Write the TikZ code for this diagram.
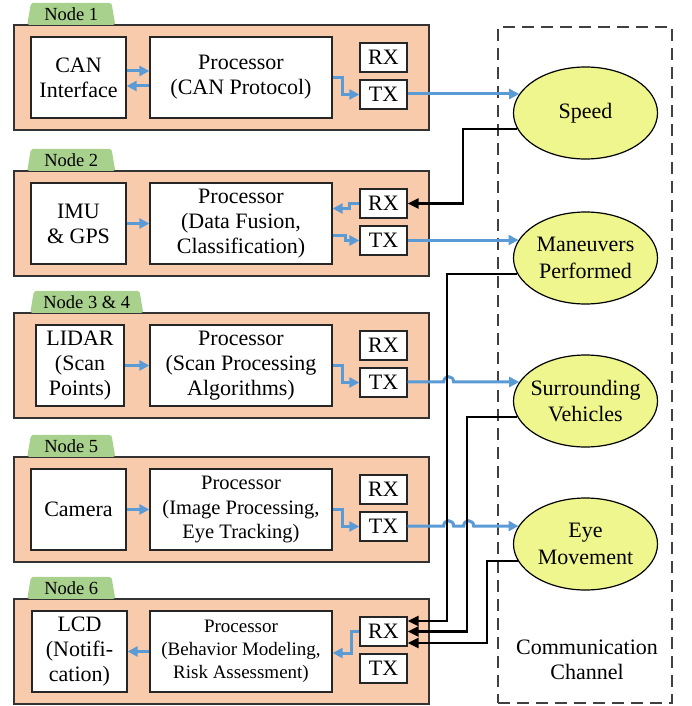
\documentclass[tikz,border=0pt]{standalone}
\usepackage{fontspec}
\setmainfont{Liberation Serif}
\usepackage{tikz}
\usetikzlibrary{arrows.meta}
\usetikzlibrary{shapes.geometric}
\usetikzlibrary{positioning}

\definecolor{unitorange}{RGB}{248,203,173}
\definecolor{tabgreen}{RGB}{169,209,142}
\definecolor{ellyellow}{RGB}{239,246,141}
\definecolor{linkblue}{RGB}{91,155,213}

\begin{document}
\begin{tikzpicture}[x=1pt,y=-1pt,
		unit/.style={draw=black!80,fill=unitorange,line width=1.4pt,minimum width=415pt,minimum height=105pt,inner sep=0pt},
		block/.style={draw=black!85,fill=white,line width=1.3pt,align=center,inner sep=0pt,minimum height=81pt,font=\fontsize{22}{25}\selectfont},
		port/.style={block,minimum width=47pt,minimum height=29pt},
		tab/.style={trapezium,trapezium left angle=74,trapezium right angle=74,trapezium stretches body,fill=tabgreen,rounded corners=2pt,minimum height=22pt,inner sep=0pt,anchor=bottom left corner,font=\fontsize{18.5}{20}\selectfont},
		msg/.style={ellipse,draw=black,line width=1.2pt,fill=ellyellow,minimum width=144pt,minimum height=92pt,inner xsep=-10pt,inner ysep=0pt,align=center,font=\fontsize{22}{26.5}\selectfont},
		channel/.style={draw=black!75,line width=1.3pt,dash pattern=on 12pt off 7pt,minimum width=174pt,minimum height=676pt,inner sep=0pt},
		link/.style={draw=linkblue,line width=3pt,-{Triangle[length=10pt,width=10pt]}},
		feed/.style={draw=black,line width=2.5pt,-{Triangle[length=11pt,width=10pt]}}]
			\useasboundingbox (0,0) rectangle (692,706);
			%communication channel
			\node[channel] (chan) at (585,365) {};
			\node[align=center,font=\fontsize{22}{25}\selectfont] (chanlabel) at (587,660) {Communication\\Channel};
			%node 1
			\node[unit] (u1) at (221.5,77.5) {};
			\node[tab,minimum width=88pt] (t1) at (27,25) {Node 1};
			\node[block,minimum width=95pt] (can1) at (78.5,77.5) {CAN\\Interface};
			\node[block,minimum width=182pt] (p1) at (241,77.5) {Processor\\(CAN Protocol)};
			\node[port] (rx1) at (383.5,57.5) {RX};
			\node[port] (tx1) at (383.5,94.5) {TX};
			%node 2
			\node[unit] (u2) at (221.5,223.5) {};
			\node[tab,minimum width=88pt] (t2) at (27,171) {Node 2};
			\node[block,minimum width=95pt] (imu2) at (78.5,223.5) {IMU\\\& GPS};
			\node[block,minimum width=182pt] (p2) at (241,223.5) {Processor\\(Data Fusion,\\Classification)};
			\node[port] (rx2) at (383.5,203.5) {RX};
			\node[port] (tx2) at (383.5,240.5) {TX};
			%node 3 & 4
			\node[unit] (u3) at (221.5,365.5) {};
			\node[tab,minimum width=113pt] (t3) at (30,313) {Node 3 \& 4};
			\node[block,minimum width=88pt] (lidar3) at (80,365.5) {LIDAR\\(Scan\\Points)};
			\node[block,minimum width=182pt] (p3) at (241,365.5) {Processor\\(Scan Processing\\Algorithms)};
			\node[port] (rx3) at (383.5,345.5) {RX};
			\node[port] (tx3) at (383.5,382.5) {TX};
			%node 5
			\node[unit] (u5) at (221.5,509.5) {};
			\node[tab,minimum width=88pt] (t5) at (27,457) {Node 5};
			\node[block,minimum width=95pt] (cam5) at (78.5,509.5) {Camera};
			\node[block,minimum width=182pt,font=\fontsize{20.5}{24.5}\selectfont] (p5) at (241,509.5) {Processor\\(Image Processing,\\Eye Tracking)};
			\node[port] (rx5) at (383.5,489.5) {RX};
			\node[port] (tx5) at (383.5,526.5) {TX};
			%node 6
			\node[unit] (u6) at (221.5,651.5) {};
			\node[tab,minimum width=88pt] (t6) at (27,599) {Node 6};
			\node[block,minimum width=95pt] (lcd6) at (79.5,651.5) {LCD\\(Notifi-\\cation)};
			\node[block,minimum width=182pt,font=\fontsize{19}{23}\selectfont] (p6) at (241,651.5) {Processor\\(Behavior Modeling,\\Risk Assessment)};
			\node[port] (rx6) at (383.5,631.5) {RX};
			\node[port] (tx6) at (383.5,668.5) {TX};
			%shared messages
			\node[msg] (speed) at (585.5,113) {Speed};
			\node[msg] (man) at (585.5,258) {Maneuvers\\Performed};
			\node[msg] (surr) at (585.5,401) {Surrounding\\Vehicles};
			\node[msg] (eye) at (585.5,544) {Eye\\Movement};
			%links inside node 1
			\draw[link] ([yshift=6.5pt]can1.east) -- ([yshift=6.5pt]p1.west);
			\draw[link] ([yshift=-8.5pt]p1.west) -- ([yshift=-8.5pt]can1.east);
			\draw[link] (p1.east) -- ++(10,0) |- (tx1);
			\draw[link] (tx1.east |- speed.164) -- (speed.164);
			%links inside node 2
			\draw[link] (imu2) -- (p2);
			\draw[link] (rx2.west) -- ++(-10,0) |- ([yshift=15pt]p2.east);
			\draw[link] ([yshift=-11.5pt]p2.east) -- ++(13,0) |- (tx2);
			\draw[link] (tx2.east |- man.165) -- (man.165);
			%links inside node 3 & 4, hop over the feed line
			\draw[link] (lidar3) -- (p3);
			\draw[link] (p3.east) -- ++(10,0) |- (tx3);
			\draw[link] (tx3.east |- surr.164) -- ++(36,0) .. controls +(0,-7) and +(0,-7) .. ++(10,0) -- (surr.164);
			%links inside node 5
			\draw[link] (cam5) -- (p5);
			\draw[link] (p5.east) -- ++(10,0) |- (tx5);
			\draw[link] (tx5.east |- eye.165) -- ++(36,0) .. controls +(0,-7) and +(0,-7) .. ++(10,0) -- ++(10,0) .. controls +(0,-7) and +(0,-7) .. ++(10,0) -- (eye.165);
			%links inside node 6
			\draw[link] (rx6.west) -- ++(-8,0) |- ([yshift=-1.5pt]p6.east);
			\draw[link] (p6) -- (lcd6);
			%received messages
			\draw[feed] (speed.193) -- ++(-54,0) |- (rx2);
			\draw[feed] (man.193) -- ++(-70,0) |- ([yshift=10.5pt]rx6.east);
			\draw[feed] (surr.193) -- ++(-50,0) |- (rx6);
			\draw[feed] (eye.194) -- ++(-31,0) |- ([yshift=-11.5pt]rx6.east);
		\end{tikzpicture}
\end{document}
